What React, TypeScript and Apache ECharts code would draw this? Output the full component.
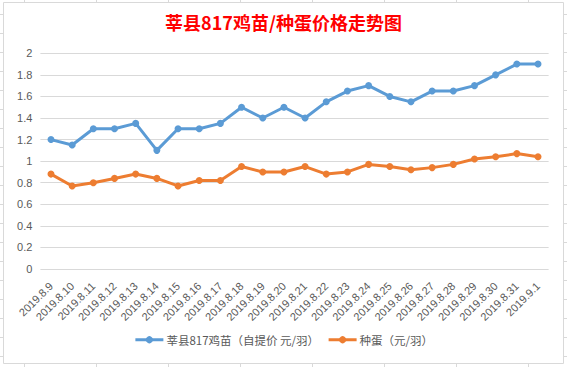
import React, { useEffect, useRef } from "react";
import * as echarts from "echarts";

const categories = [
  "2019.8.9", "2019.8.10", "2019.8.11", "2019.8.12", "2019.8.13", "2019.8.14",
  "2019.8.15", "2019.8.16", "2019.8.17", "2019.8.18", "2019.8.19", "2019.8.20",
  "2019.8.21", "2019.8.22", "2019.8.23", "2019.8.24", "2019.8.25", "2019.8.26",
  "2019.8.27", "2019.8.28", "2019.8.29", "2019.8.30", "2019.8.31", "2019.9.1",
];

const chickPrices = [
  1.2, 1.15, 1.3, 1.3, 1.35, 1.1, 1.3, 1.3, 1.35, 1.5, 1.4, 1.5,
  1.4, 1.55, 1.65, 1.7, 1.6, 1.55, 1.65, 1.65, 1.7, 1.8, 1.9, 1.9,
];

const eggPrices = [
  0.88, 0.77, 0.8, 0.84, 0.88, 0.84, 0.77, 0.82, 0.82, 0.95, 0.9, 0.9,
  0.95, 0.88, 0.9, 0.97, 0.95, 0.92, 0.94, 0.97, 1.02, 1.04, 1.07, 1.04,
];

const chickName = "莘县817鸡苗（自提价 元/羽）";
const eggName = "种蛋（元/羽）";
const titleText = "莘县817鸡苗/种蛋价格走势图";

const W = 567;
const H = 367;

export default function App() {
  const ref = useRef<HTMLDivElement>(null);

  useEffect(() => {
    if (!ref.current) return;
    const chart = echarts.init(ref.current, undefined, { renderer: "svg" });
    const gridColor = "#d9d9d9";
    const labelColor = "#595959";
    const font = "'Noto Sans CJK SC', 'Liberation Sans', sans-serif";

    // spreadsheet cell lines visible around the chart frame
    const sheet: any[] = [];
    for (let x = 24; x < W; x += 72) {
      sheet.push({ type: "line", shape: { x1: x + 0.5, y1: 0, x2: x + 0.5, y2: 2 }, style: { stroke: gridColor, lineWidth: 1 } });
      sheet.push({ type: "line", shape: { x1: x + 0.5, y1: 364, x2: x + 0.5, y2: H }, style: { stroke: gridColor, lineWidth: 1 } });
    }
    for (let y = 14; y < H; y += 19) {
      sheet.push({ type: "line", shape: { x1: 0, y1: y + 0.5, x2: 3, y2: y + 0.5 }, style: { stroke: gridColor, lineWidth: 1 } });
      sheet.push({ type: "line", shape: { x1: 564, y1: y + 0.5, x2: W, y2: y + 0.5 }, style: { stroke: gridColor, lineWidth: 1 } });
    }
    sheet.push({
      type: "rect",
      shape: { x: 3.5, y: 2.5, width: 560, height: 361 },
      style: { fill: "none", stroke: gridColor, lineWidth: 1 },
    });

    chart.setOption({
      animation: false,
      backgroundColor: "#ffffff",
      title: {
        text: titleText,
        left: "center",
        top: 8,
        textStyle: { color: "#ff0000", fontSize: 18, fontWeight: "bold", fontFamily: font },
      },
      graphic: sheet,
      legend: {
        data: [chickName, eggName],
        left: "center",
        top: 334,
        itemWidth: 28,
        itemHeight: 9,
        itemGap: 8,
        padding: [0, 0, 0, 0],
        lineStyle: { width: 3 },
        textStyle: { color: labelColor, fontSize: 11.5, fontFamily: font, padding: [0, 0, 0, -2] },
      },
      grid: { left: 40.4, right: 18.4, top: 53.3, bottom: 98, containLabel: false },
      xAxis: {
        type: "category",
        data: categories,
        boundaryGap: true,
        axisLine: { show: false },
        axisTick: { show: false },
        axisLabel: {
          interval: 0,
          rotate: 45,
          margin: 15,
          color: labelColor,
          fontSize: 11,
          fontFamily: "'Liberation Sans', sans-serif",
        },
      },
      yAxis: {
        type: "value",
        min: 0,
        max: 2,
        interval: 0.2,
        axisLine: { show: false },
        axisTick: { show: false },
        splitLine: { lineStyle: { color: gridColor, width: 1 } },
        axisLabel: {
          margin: 8,
          color: labelColor,
          fontSize: 11,
          fontFamily: "'Liberation Sans', sans-serif",
          formatter: (v: number) => String(Math.round(v * 10) / 10),
        },
      },
      series: [
        {
          name: chickName,
          type: "line",
          data: chickPrices,
          symbol: "circle",
          symbolSize: 7,
          color: "#5b9bd5",
          lineStyle: { width: 3, color: "#5b9bd5" },
          itemStyle: { color: "#5b9bd5" },
        },
        {
          name: eggName,
          type: "line",
          data: eggPrices,
          symbol: "circle",
          symbolSize: 7,
          color: "#ed7d31",
          lineStyle: { width: 3, color: "#ed7d31" },
          itemStyle: { color: "#ed7d31" },
        },
      ],
    });
    return () => chart.dispose();
  }, []);

  return (
    <div
      ref={ref}
      style={{ position: "absolute", left: 0, top: 0, width: W, height: H }}
    />
  );
}
